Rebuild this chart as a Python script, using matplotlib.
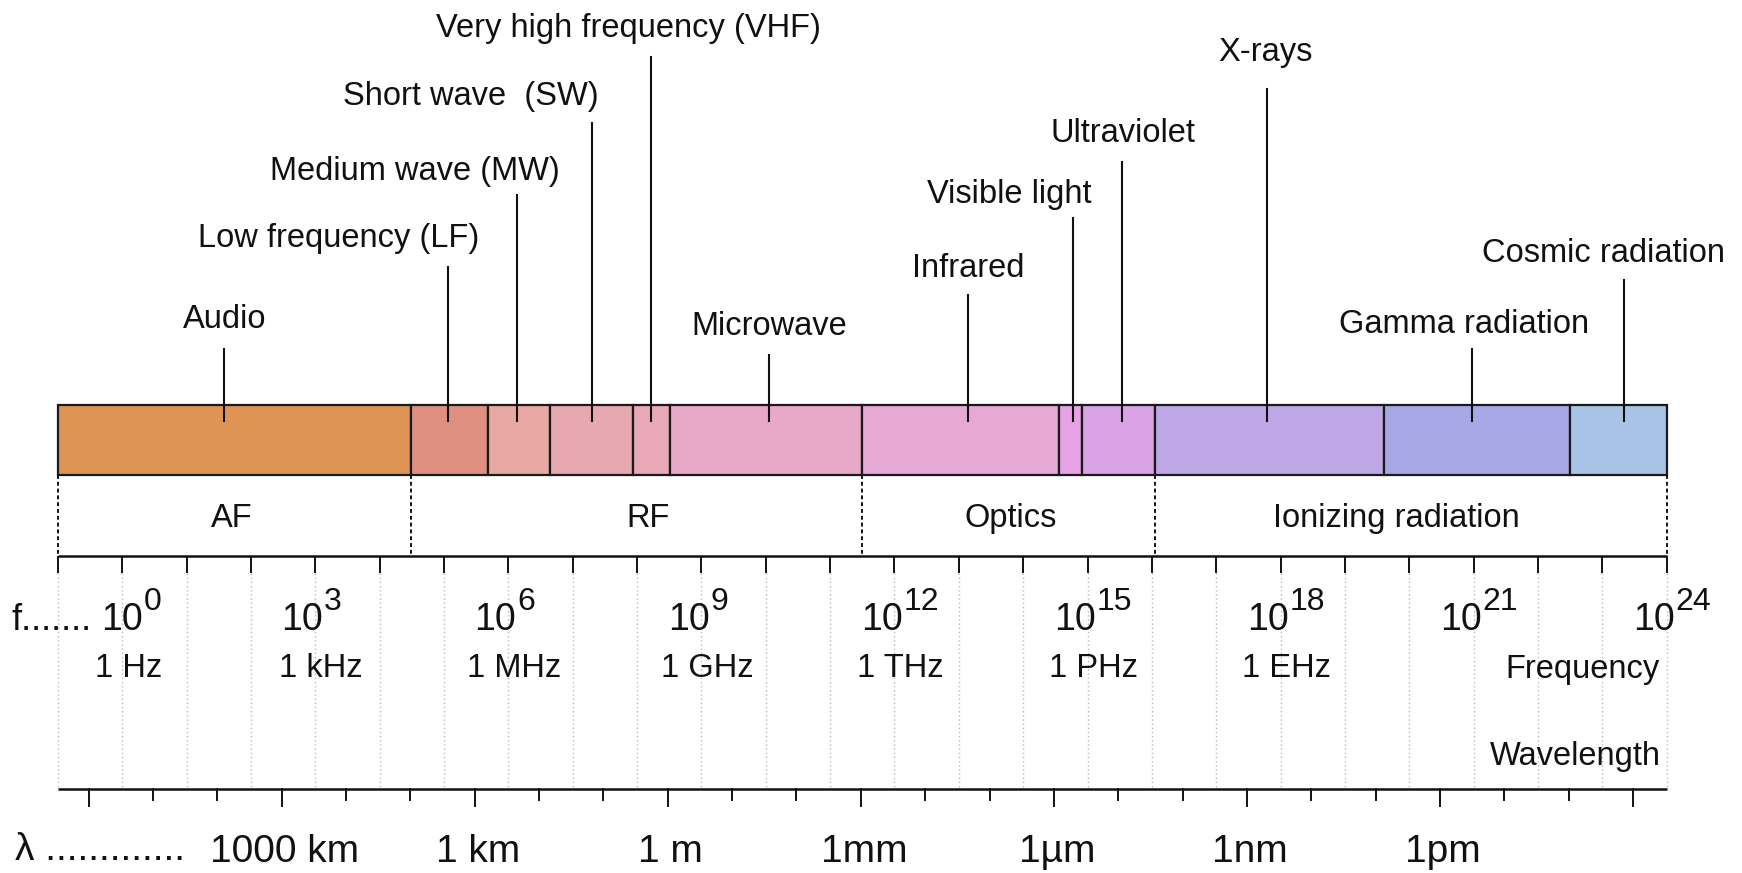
import numpy as np
import matplotlib
matplotlib.use("Agg")
import matplotlib.pyplot as plt

plt.rcParams['font.family'] = ['Liberation Sans', 'DejaVu Sans']

# spectrum bands, edges given as log10(frequency / Hz)
band_names = ['Audio', 'LF', 'MW', 'SW', 'VHF', 'Microwave', 'Infrared',
              'Visible', 'UV', 'X-rays', 'Gamma', 'Cosmic']
band_edges = [-1, 4.49, 5.68, 6.655, 7.94, 8.51, 11.49, 14.56, 14.91, 16.05, 19.6, 22.49, 24]
band_colors = ['#DD9455', '#DF9080', '#E8A8A3', '#E8A8B0', '#E8A8B6', '#E8A8C8',
               '#E6A8D4', '#E6A3E6', '#D9A3E6', '#BFA8E6', '#A8A8E6', '#A8C3E6']

# callout labels and where their pointer hits the bar (log10 Hz)
label_texts = ['Audio', 'Low frequency (LF)', 'Medium wave (MW)', 'Short wave  (SW)',
               'Very high frequency (VHF)', 'Microwave', 'Infrared', 'Visible light',
               'Ultraviolet', 'X-rays', 'Gamma radiation', 'Cosmic radiation']
label_x = [1.60, 3.36, 4.55, 5.42, 7.86, 10.05, 13.14, 13.79, 15.55, 17.77, 20.85, 23.01]
pointer_x = [1.59, 5.06, 6.13, 7.30, 8.21, 10.05, 13.14, 14.77, 15.53, 17.79, 20.97, 23.33]

# broad regions under the bar
region_names = ['AF', 'RF', 'Optics', 'Ionizing radiation']
region_edges = [-1, 4.49, 11.49, 16.05, 24]
region_label_x = [1.70, 8.17, 13.81, 19.80]

# frequency axis
freq_exponents = [0, 3, 6, 9, 12, 15, 18, 21, 24]
freq_units = ['1 Hz', '1 kHz', '1 MHz', '1 GHz', '1 THz', '1 PHz', '1 EHz']

# wavelength axis, lambda = 10**n metres
wl_label_exp = [6, 3, 0, -3, -6, -9, -12]
wl_labels = ['1000 km', '1 km', '1 m', '1mm', '1µm', '1nm', '1pm']
wl_tick_exp = list(range(9, -16, -1))
C_LIGHT = 3e8

# ---- layout (pixels from top, figure is 1742 x 873) ----
W, H = 1742, 873
DEC = 64.36            # pixels per decade
XL = 57.8              # pixel x of 10^-1 Hz
label_base = [328, 247, 180, 105, 37, 335, 277, 203, 142, 61, 333, 262]
pointer_top = [349, 267, 195, 123, 57, 355, 295, 218, 162, 89, 349, 280]
BAR_TOP, BAR_BOT = 405, 474.5
POINTER_END = 421
F_AXIS = 556
WL_AXIS = 788.5


def px(p):
    return p / DEC


fig = plt.figure(figsize=(W / 100, H / 100), dpi=100)
ax = fig.add_axes([0, 0, 1, 1])
ax.set_xlim(-1 - XL / DEC, 24 + (W - XL - 25 * DEC) / DEC)
ax.set_ylim(H, 0)
ax.axis('off')

fs = 23.5
big = 28

# bar
lefts = np.array(band_edges[:-1])
widths = np.diff(band_edges)
ax.bar(lefts, BAR_BOT - BAR_TOP, width=widths, bottom=BAR_TOP, align='edge',
       color=band_colors, edgecolor='#1a1a1a', linewidth=1.6, zorder=2)

# callouts
for txt, lx, pxx, yb, yt in zip(label_texts, label_x, pointer_x, label_base, pointer_top):
    ax.text(lx, yb, txt, ha='center', va='baseline', fontsize=fs, color='#111111')
    ax.plot([pxx, pxx], [yt, POINTER_END], color='#111111', lw=1.5, zorder=3)

# region boxes
ax.vlines(region_edges, BAR_BOT, F_AXIS, colors='#111111', linestyles=(0, (2, 1.5)), lw=1.4)
for name, rx in zip(region_names, region_label_x):
    ax.text(rx, 527, name, ha='center', va='baseline', fontsize=fs, color='#111111')

# frequency axis
f_ticks = np.arange(-1, 25)
ax.plot([-1, 24], [F_AXIS, F_AXIS], color='#111111', lw=1.8, solid_capstyle='butt')
ax.vlines(f_ticks, F_AXIS, F_AXIS + 17, colors='#111111', lw=1.4)
ax.vlines(f_ticks, F_AXIS + 17, WL_AXIS, colors='#B8B8B8', linestyles=(0, (1, 2)), lw=1.0)

for e in freq_exponents:
    dx = px(21) if e == 0 else px(8)
    ax.text(e + dx, 630, '10', ha='right', va='baseline', fontsize=27, color='#111111')
    ax.text(e + dx + px(1), 610, str(e), ha='left', va='baseline', fontsize=23, color='#111111')
for e, u in zip(freq_exponents, freq_units):
    ax.text(e + px(6), 677, u, ha='center', va='baseline', fontsize=fs, color='#111111')

ax.text(-1 - px(46), 630, 'f.......', ha='left', va='baseline', fontsize=26, color='#111111')
ax.text(24 - px(7), 678, 'Frequency', ha='right', va='baseline', fontsize=fs, color='#111111')
ax.text(24 - px(6), 765, 'Wavelength', ha='right', va='baseline', fontsize=fs, color='#111111')

# wavelength axis
ax.plot([-1, 24], [WL_AXIS, WL_AXIS], color='#111111', lw=1.8, solid_capstyle='butt')
for n in wl_tick_exp:
    x = np.log10(C_LIGHT) - n
    length = 17 if n % 3 == 0 else 11
    ax.plot([x, x], [WL_AXIS, WL_AXIS + length], color='#111111', lw=1.4)
for n, lab in zip(wl_label_exp, wl_labels):
    x = np.log10(C_LIGHT) - n
    ax.text(x + px(3), 862, lab, ha='center', va='baseline', fontsize=big, color='#111111')

ax.text(-1 - px(43), 860, 'λ .............', ha='left', va='baseline', fontsize=big, color='#111111')

fig.savefig('out.png', dpi=100)
